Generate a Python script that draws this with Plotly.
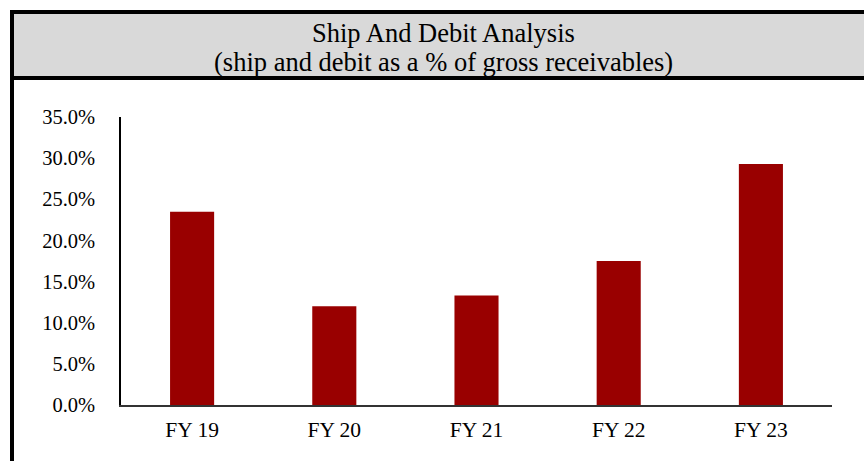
import plotly.graph_objects as go

categories = ["FY 19", "FY 20", "FY 21", "FY 22", "FY 23"]
values = [0.235, 0.120, 0.133, 0.175, 0.293]
tick_vals = [0, 0.05, 0.10, 0.15, 0.20, 0.25, 0.30, 0.35]
title_line1 = "Ship And Debit Analysis"
title_line2 = "(ship and debit as a % of gross receivables)"

W, H = 864, 461
L, R, T, B = 121, 32, 117, 56
pw, ph = W - L - R, H - T - B

def px(x):
    return (x - L) / pw

def py(y):
    return (H - B - y) / ph

font = "Liberation Serif, Times New Roman, serif"

fig = go.Figure(go.Bar(x=categories, y=values, marker_color="#990000",
                       marker_line_width=0))

fig.update_layout(
    width=W, height=H,
    margin=dict(l=L, r=R, t=T, b=B),
    paper_bgcolor="white", plot_bgcolor="white",
    bargap=0.69,
    showlegend=False,
    font=dict(family=font, color="black", size=20.5),
)
fig.update_yaxes(range=[0, 0.35], tickvals=tick_vals, tickformat=".1%",
                 showgrid=False, zeroline=False, showline=True,
                 linecolor="black", linewidth=1.5, ticks="",
                 ticklabelstandoff=20, tickfont=dict(size=20.5, family=font))
fig.update_xaxes(showgrid=False, showline=True, linecolor="#333333",
                 linewidth=2, ticks="", ticklabelstandoff=4,
                 tickfont=dict(size=21.5, family=font))

# Title box
fig.add_shape(type="rect", xref="paper", yref="paper",
              x0=px(12), x1=px(880), y0=py(78), y1=py(12),
              fillcolor="#D9D9D9", line_width=0, layer="below")
# Border lines
for (x0, y0, x1, y1) in [(12, 12, 880, 12), (12, 78, 880, 78), (12, 10, 12, 470)]:
    fig.add_shape(type="line", xref="paper", yref="paper",
                  x0=px(x0), x1=px(x1), y0=py(y0), y1=py(y1),
                  line=dict(color="black", width=4))

fig.add_annotation(text=title_line1, xref="paper", yref="paper",
                   x=px(443), y=py(33), showarrow=False,
                   xanchor="center", yanchor="middle",
                   font=dict(size=26.5, family=font, color="black"))
fig.add_annotation(text=title_line2, xref="paper", yref="paper",
                   x=px(443), y=py(62), showarrow=False,
                   xanchor="center", yanchor="middle",
                   font=dict(size=26.5, family=font, color="black"))

fig.write_html("out.html", config={"displayModeBar": False},
               post_script="document.body.style.margin='0';document.body.style.overflow='hidden';")
